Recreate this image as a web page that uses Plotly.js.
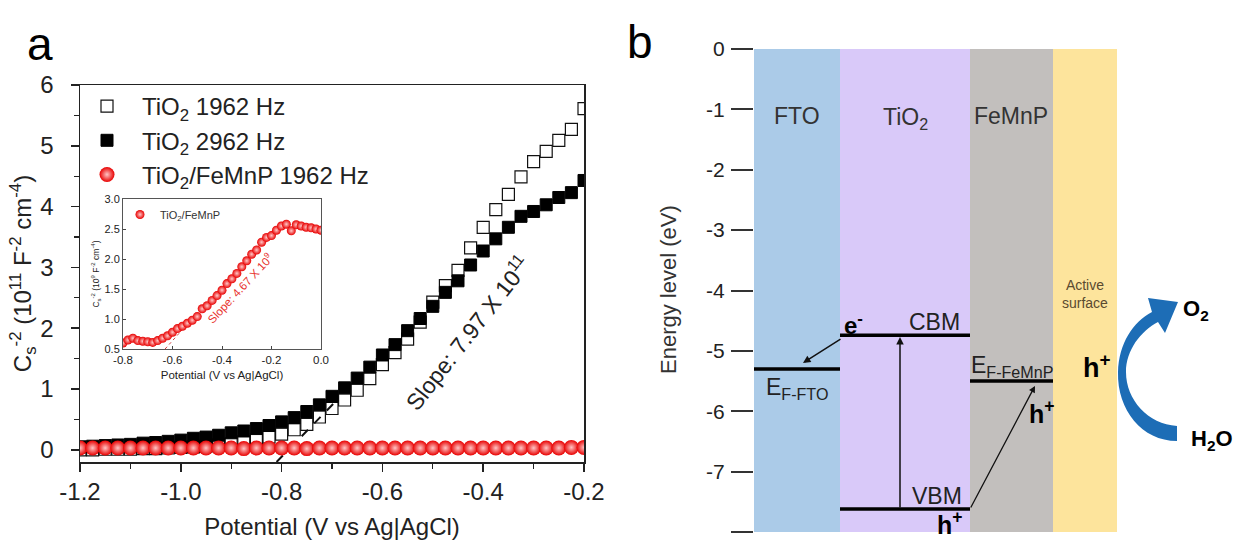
<!DOCTYPE html>
<html><head><meta charset="utf-8">
<script src="https://cdn.plot.ly/plotly-3.0.1.min.js"></script>
<style>html,body{margin:0;padding:0;background:#fff}</style>
</head><body><div id="chart" style="width:1241px;height:540px"></div>
<script>
// ---------- Panel a data ----------
const potential = [-1.2,-1.175,-1.15,-1.125,-1.1,-1.075,-1.05,-1.025,-1.0,-0.975,-0.95,-0.925,-0.9,-0.875,-0.85,-0.825,-0.8,-0.775,-0.75,-0.725,-0.7,-0.675,-0.65,-0.625,-0.6,-0.575,-0.55,-0.525,-0.5,-0.475,-0.45,-0.425,-0.4,-0.375,-0.35,-0.325,-0.3,-0.275,-0.25,-0.225,-0.2];
const tio2_1962 = [0.00,0.00,0.01,0.01,0.01,0.02,0.02,0.03,0.04,0.05,0.06,0.08,0.10,0.13,0.17,0.21,0.26,0.33,0.42,0.54,0.68,0.82,0.98,1.17,1.40,1.60,1.82,2.10,2.43,2.70,2.95,3.32,3.66,3.95,4.20,4.49,4.74,4.91,5.09,5.27,5.61];
const tio2_2962 = [0.05,0.06,0.07,0.08,0.09,0.11,0.12,0.14,0.16,0.19,0.21,0.24,0.28,0.31,0.35,0.40,0.46,0.53,0.63,0.74,0.88,1.02,1.18,1.36,1.56,1.73,1.96,2.16,2.36,2.59,2.78,3.04,3.27,3.47,3.66,3.84,3.92,4.03,4.15,4.23,4.43];
const feMnP_1962 = [0.03,0.03,0.03,0.03,0.03,0.03,0.03,0.03,0.03,0.03,0.03,0.03,0.03,0.02,0.03,0.03,0.03,0.03,0.02,0.03,0.03,0.03,0.03,0.03,0.03,0.03,0.03,0.03,0.03,0.03,0.03,0.03,0.03,0.03,0.03,0.03,0.03,0.03,0.03,0.04,0.04];
const tangentX = [-0.81,-0.69];
const tangentY = [-0.2,0.82];
const seriesNames = ['TiO<sub>2</sub> 1962 Hz','TiO<sub>2</sub> 2962 Hz','TiO<sub>2</sub>/FeMnP 1962 Hz'];
const xTicks = [-1.2,-1.0,-0.8,-0.6,-0.4,-0.2];
const xTickLabels = ['-1.2','-1.0','-0.8','-0.6','-0.4','-0.2'];
const yTicks = [0,1,2,3,4,5,6];

// inset
const insetPotential = [-0.80,-0.78,-0.76,-0.74,-0.72,-0.70,-0.68,-0.66,-0.64,-0.62,-0.60,-0.58,-0.56,-0.54,-0.52,-0.50,-0.48,-0.46,-0.44,-0.42,-0.40,-0.38,-0.36,-0.34,-0.32,-0.30,-0.28,-0.26,-0.24,-0.22,-0.20,-0.18,-0.16,-0.14,-0.12,-0.10,-0.08,-0.06,-0.04,-0.02,0.00];
const insetFeMnP = [0.60,0.65,0.68,0.64,0.63,0.62,0.61,0.64,0.68,0.72,0.78,0.84,0.88,0.93,0.98,1.04,1.17,1.22,1.31,1.39,1.48,1.59,1.67,1.76,1.87,1.97,2.08,2.15,2.28,2.36,2.39,2.48,2.55,2.58,2.47,2.57,2.55,2.53,2.52,2.50,2.48];
const insetTangentX = [-0.63,-0.55];
const insetTangentY = [0.5,0.87];
const insetXTicks = [-0.8,-0.6,-0.4,-0.2,0.0];
const insetXTickLabels = ['-0.8','-0.6','-0.4','-0.2','0.0'];
const insetYTicks = [0.5,1.0,1.5,2.0,2.5,3.0];
const insetYTickLabels = ['0.5','1.0','1.5','2.0','2.5','3.0'];

// ---------- Panel b data ----------
const layers = ['FTO','TiO<sub>2</sub>','FeMnP','Active<br>surface'];
const layerWidths = [0.86,1.30,0.83,0.64];
const layerColors = ['#abcbe8','#d9c9f9','#c2bfbd','#fde49c'];
const bottomEnergy = -8;
const levelNames = ['E<sub>F-FTO</sub>','CBM','VBM','E<sub>F-FeMnP</sub>'];
const levelValues = [-5.30,-4.74,-7.62,-5.50];
const levelLayer = [0,1,1,2];
const energyTicks = [0,-1,-2,-3,-4,-5,-6,-7,-8];
const energyTickLabels = ['0','-1','-2','-3','-4','-5','-6','-7','-8'];

// ---------- helpers ----------
const W = 1241, H = 540;
const px = x => x / W, py = y => 1 - y / H;
const FONT = 'Arial, "Liberation Sans", sans-serif';
const layerStart = []; let acc = 0;
layerWidths.forEach(w => { layerStart.push(acc); acc += w; });
const layerCenter = layerWidths.map((w, i) => layerStart[i] + w / 2);

const traces = [];
// main panel
traces.push({x: potential, y: tio2_1962, type:'scatter', mode:'markers', name: seriesNames[0],
  legendgroup:'g1', marker:{symbol:'square', size:12, color:'#ffffff', line:{color:'#111', width:1.2}}, xaxis:'x', yaxis:'y'});
traces.push({x: potential, y: tio2_2962, type:'scatter', mode:'markers', name: seriesNames[1],
  legendgroup:'g2', marker:{symbol:'square', size:12, color:'#000', line:{color:'#000', width:1}}, xaxis:'x', yaxis:'y'});
traces.push({x: tangentX, y: tangentY, type:'scatter', mode:'lines', showlegend:false,
  line:{color:'#111', width:2, dash:'dash'}, xaxis:'x', yaxis:'y', hoverinfo:'skip'});
traces.push({x: potential, y: feMnP_1962, type:'scatter', mode:'markers', name: seriesNames[2],
  legendgroup:'g3', marker:{symbol:'circle', size:15, color:'#e80000', gradient:{type:'radial', color:'#ffc4c4'}, line:{width:0}}, xaxis:'x', yaxis:'y'});
// inset
traces.push({x: insetTangentX, y: insetTangentY, type:'scatter', mode:'lines', showlegend:false,
  line:{color:'#d04040', width:1, dash:'dot'}, xaxis:'x3', yaxis:'y3', hoverinfo:'skip'});
traces.push({x: insetPotential, y: insetFeMnP, type:'scatter', mode:'markers', name:'TiO<sub>2</sub>/FeMnP',
  legend:'legend2', marker:{symbol:'circle', size:9, color:'#e80000', gradient:{type:'radial', color:'#ffc8c8'}, line:{width:0}}, xaxis:'x3', yaxis:'y3'});
// panel b layers
traces.push({x: layerCenter, y: layerWidths.map(() => bottomEnergy), base: 0, width: layerWidths, type:'bar',
  marker:{color: layerColors, line:{width:0}}, showlegend:false, xaxis:'x2', yaxis:'y2', hoverinfo:'skip'});
// energy levels
levelValues.forEach((v, i) => {
  const li = levelLayer[i];
  traces.push({x:[layerStart[li], layerStart[li] + layerWidths[li]], y:[v, v], type:'scatter', mode:'lines',
    line:{color:'#000', width:3.5}, showlegend:false, xaxis:'x2', yaxis:'y2', hoverinfo:'skip'});
});

const ann = [];
function txt(text, x, y, size, o) {
  ann.push(Object.assign({text, x: px(x), y: py(y), xref:'paper', yref:'paper', showarrow:false,
    font:{family: FONT, size, color:'#222'}, xanchor:'center', yanchor:'middle'}, o || {}));
}
txt('a', 40, 44, 46, {font:{family:FONT, size:46, color:'#000'}});
txt('b', 640, 42, 46, {font:{family:FONT, size:46, color:'#000'}});
txt('Slope: 7.97 X 10<sup>11</sup>', 467, 333, 23, {textangle:-52});
txt('Slope: 4.67 X 10<sup>9</sup>', 240, 288, 11.5, {textangle:-47, font:{family:FONT, size:11.5, color:'#e8322e'}});
// panel b labels
txt('Energy level (eV)', 668, 290, 22, {textangle:-90, font:{family:FONT, size:22, color:'#333'}});
txt(layers[0], 797, 116, 23, {font:{family:FONT, size:23, color:'#333'}});
txt(layers[1], 905, 118, 23, {font:{family:FONT, size:23, color:'#333'}});
txt(layers[2], 1011, 116, 23, {font:{family:FONT, size:23, color:'#333'}});
txt(layers[3], 1085, 294, 14, {font:{family:FONT, size:14, color:'#5a4a30'}});
txt(levelNames[0], 797, 388, 23);
txt(levelNames[1], 934, 322, 23);
txt(levelNames[2], 937, 496, 23);
txt(levelNames[3], 1012, 366, 23);
txt('<b>e<sup>-</sup></b>', 853, 324, 24, {font:{family:FONT, size:24, color:'#000'}});
txt('<b>h<sup>+</sup></b>', 950, 523, 25, {font:{family:FONT, size:25, color:'#000'}});
txt('<b>h<sup>+</sup></b>', 1042, 412, 25, {font:{family:FONT, size:25, color:'#000'}});
txt('<b>h<sup>+</sup></b>', 1097, 366, 27, {font:{family:FONT, size:27, color:'#000'}});
txt('<b>O<sub>2</sub></b>', 1196, 310, 22, {font:{family:FONT, size:22, color:'#000'}});
txt('<b>H<sub>2</sub>O</b>', 1212, 440, 22, {font:{family:FONT, size:22, color:'#000'}});

// arrows in panel b (data coordinates)
const tio2Arrow = layerStart[1] + 0.60;
ann.push({x: tio2Arrow, y: levelValues[1] - 0.03, ax: tio2Arrow, ay: levelValues[2], xref:'x2', yref:'y2', axref:'x2', ayref:'y2',
  showarrow:true, arrowhead:2, arrowsize:1, arrowwidth:1.5, arrowcolor:'#111', text:''});
ann.push({x: layerStart[0] + 0.49, y: levelValues[0] + 0.1, ax: layerStart[1] + 0.02, ay: levelValues[1] - 0.05, xref:'x2', yref:'y2', axref:'x2', ayref:'y2',
  showarrow:true, arrowhead:2, arrowsize:1, arrowwidth:1.5, arrowcolor:'#111', text:''});
ann.push({x: layerStart[2] + 0.65, y: levelValues[3] - 0.08, ax: layerStart[2], ay: levelValues[2], xref:'x2', yref:'y2', axref:'x2', ayref:'y2',
  showarrow:true, arrowhead:2, arrowsize:1, arrowwidth:1.3, arrowcolor:'#111', text:''});

// curved blue arrow (pixel path -> paper)
const arrowPx = 'M1177,441 C1142,441 1117,410 1118,372 C1119,343 1133,322 1152,312 L1148,298 L1178,302 L1165,333 L1158,322 C1141,331 1126,350 1126,372 C1126,400 1148,424 1177,426 Z';
const arrowPath = arrowPx.replace(/(\d+(?:\.\d+)?),(\d+(?:\.\d+)?)/g, (m, a, b) => px(+a).toFixed(5) + ',' + py(+b).toFixed(5));

const axisFont = {family: FONT, size: 24, color:'#222'};
const layout = {
  width: W, height: H, margin:{l:0, r:0, t:0, b:0},
  paper_bgcolor:'#fff', plot_bgcolor:'rgba(0,0,0,0)',
  font:{family: FONT, color:'#222'},
  showlegend:true,
  legend:{x: px(72), y: py(84), xanchor:'left', yanchor:'top', bgcolor:'rgba(0,0,0,0)', borderwidth:0,
    font:{family: FONT, size:24, color:'#222'}, itemwidth:60, tracegroupgap:3, traceorder:'normal'},
  legend2:{x: px(120), y: py(200), xanchor:'left', yanchor:'top', bgcolor:'rgba(0,0,0,0)', borderwidth:0,
    font:{family: FONT, size:11, color:'#333'}, itemwidth:30},
  xaxis:{domain:[px(80), px(584)], range:[-1.2,-0.2], anchor:'y', tickvals:xTicks, ticktext:xTickLabels,
    ticks:'outside', ticklen:8, tickwidth:1.5, tickcolor:'#222', showline:true, linecolor:'#222', linewidth:1.5, mirror:true,
    minor:{ticks:'outside', dtick:0.1, tick0:-1.2, ticklen:5, tickwidth:1.2, tickcolor:'#222'},
    showgrid:false, zeroline:false, tickfont:axisFont,
    title:{text:'Potential (V vs Ag|AgCl)', font:axisFont, standoff:16}},
  yaxis:{domain:[py(462), py(85)], range:[-0.2,6], anchor:'x', tickvals:yTicks,
    ticks:'outside', ticklen:8, tickwidth:1.5, tickcolor:'#222', showline:true, linecolor:'#222', linewidth:1.5, mirror:true,
    minor:{ticks:'outside', dtick:0.5, tick0:0, ticklen:5, tickwidth:1.2, tickcolor:'#222'},
    showgrid:false, zeroline:false, tickfont:axisFont, ticklabelstandoff:12,
    title:{text:'C<sub>s</sub><sup>-2</sup> (10<sup>11</sup> F<sup>-2</sup> cm<sup>-4</sup>)', font:axisFont, standoff:0}},
  xaxis3:{domain:[px(123), px(321)], range:[-0.8,0], anchor:'y3', tickvals:insetXTicks, ticktext:insetXTickLabels,
    ticks:'inside', ticklen:3, tickcolor:'#444', showline:true, linecolor:'#555', linewidth:1, mirror:true,
    showgrid:false, zeroline:false, tickfont:{family:FONT, size:11.5, color:'#222'},
    title:{text:'Potential (V vs Ag|AgCl)', font:{family:FONT, size:11.5, color:'#222'}, standoff:6}},
  yaxis3:{domain:[py(349), py(199)], range:[0.5,3.0], anchor:'x3', tickvals:insetYTicks, ticktext:insetYTickLabels,
    ticks:'inside', ticklen:3, tickcolor:'#444', showline:true, linecolor:'#555', linewidth:1, mirror:true,
    showgrid:false, zeroline:false, tickfont:{family:FONT, size:11, color:'#222'},
    title:{text:'C<sub>s</sub><sup>-2</sup> (10<sup>9</sup> F<sup>-2</sup> cm<sup>-4</sup>)', font:{family:FONT, size:8.5, color:'#222'}, standoff:3}},
  xaxis2:{domain:[px(754), px(1117)], range:[0, acc], anchor:'y2', visible:false, fixedrange:true},
  yaxis2:{domain:[py(532), py(49)], range:[-8,0], anchor:'x2', tickvals:energyTicks, ticktext:energyTickLabels,
    ticks:'outside', ticklen:22, tickwidth:2, tickcolor:'#333', showline:false, showgrid:false, zeroline:false,
    tickfont:{family:FONT, size:21, color:'#222'}, ticklabelstandoff:2},
  annotations: ann,
  shapes:[{type:'path', xref:'paper', yref:'paper', path: arrowPath, fillcolor:'#1d6db6', line:{width:0}}]
};
Plotly.newPlot('chart', traces, layout, {staticPlot:true, displayModeBar:false});
</script></body></html>
